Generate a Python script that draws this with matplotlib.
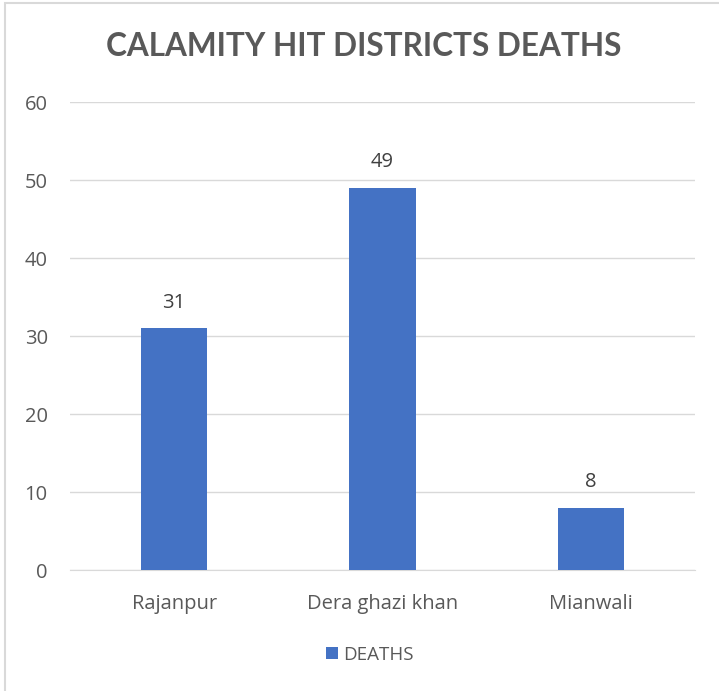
import matplotlib.pyplot as plt
from matplotlib.patches import Rectangle

districts = ["Rajanpur", "Dera ghazi khan", "Mianwali"]
deaths = [31, 49, 8]
yticks = [0, 10, 20, 30, 40, 50, 60]

blue = "#4472C4"
grey_txt = "#595959"
fs = 14.5

fig = plt.figure(figsize=(7.19, 6.91), dpi=100)
ax = fig.add_axes([70 / 719, 1 - 570 / 691, 625 / 719, 468 / 691])

x = range(len(districts))
bars = ax.bar(x, deaths, width=0.317, color=blue, zorder=3, label="DEATHS")

for b, v in zip(bars, deaths):
    ax.text(b.get_x() + b.get_width() / 2, v + 2.0, str(v), ha="center", va="bottom",
            fontsize=fs, color="#404040", family="Open Sans")

ax.set_xlim(-0.5, 2.5)
ax.set_ylim(0, 60)
ax.set_yticks(yticks)
ax.set_xticks(list(x))
ax.set_xticklabels(districts)
ax.grid(axis="y", color="#D9D9D9", linewidth=1, zorder=0)
for s in ["top", "right", "left"]:
    ax.spines[s].set_visible(False)
ax.spines["bottom"].set_color("#D9D9D9")
ax.tick_params(length=0, labelsize=fs, colors=grey_txt)
ax.tick_params(axis="y", pad=16)
ax.tick_params(axis="x", pad=17)
for lab in ax.get_xticklabels() + ax.get_yticklabels():
    lab.set_family("Open Sans")

fig.text(364 / 719, 1 - 47 / 691, "CALAMITY HIT DISTRICTS DEATHS", ha="center", va="center",
         fontsize=22.7, fontweight="bold", color=grey_txt, family="Lato")

fig.legend(loc="center", bbox_to_anchor=(370 / 719, 1 - 655 / 691), frameon=False,
           prop={"family": "Open Sans", "size": 13.5}, labelcolor=grey_txt,
           handlelength=0.6, handleheight=0.6, handletextpad=0.3)

# partial chart border (left and top only visible in the crop)
fig.patches.append(Rectangle((5 / 719, -0.1), 1.2, 1 - 3 / 691 + 0.1, transform=fig.transFigure,
                             fill=False, edgecolor="#D9D9D9", linewidth=1.5))

fig.savefig("out.png", dpi=100)
